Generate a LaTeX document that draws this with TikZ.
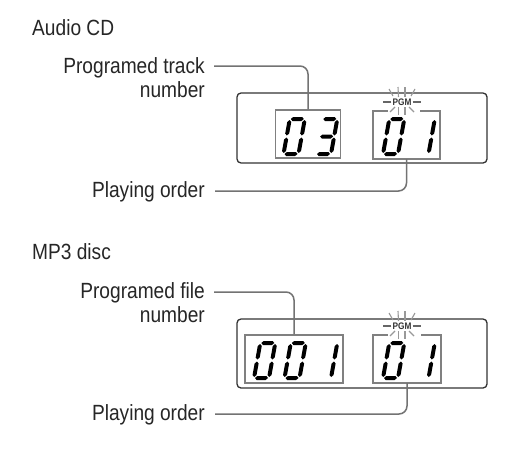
\documentclass[tikz,border=0pt]{standalone}
\usepackage{fontspec}
\setmainfont{Liberation Sans}[FakeStretch=0.87]
\usetikzlibrary{calc}
\newcommand{\lcdh}[3]{\fill (#1,#3) -- (#1+2,#3+2) -- (#2-2,#3+2) -- (#2,#3) -- (#2-2,#3-2) -- (#1+2,#3-2) -- cycle;}
\newcommand{\lcdv}[3]{\fill (#1,#2) -- (#1+2,#2+2) -- (#1+2,#3-2) -- (#1,#3) -- (#1-2,#3-2) -- (#1-2,#2+2) -- cycle;}
\newcommand{\lcdsega}{\lcdh{1}{14}{35}}
\newcommand{\lcdsegd}{\lcdh{1}{14}{0}}
\newcommand{\lcdsegg}{\lcdh{1}{14}{17.5}}
\newcommand{\lcdsegf}{\lcdv{0}{18.5}{34}}
\newcommand{\lcdsege}{\lcdv{0}{1}{16.5}}
\newcommand{\lcdsegb}{\lcdv{15}{18.5}{34}}
\newcommand{\lcdsegc}{\lcdv{15}{1}{16.5}}
\newcommand{\lcddigit}[3]{\begin{scope}[shift={(#1,-#2)}, xslant=0.18, black]
  \foreach \s in {#3} {\csname lcdseg\s\endcsname}
\end{scope}}
\tikzset{
  lbl/.style={font=\fontsize{22}{24}\selectfont, text=black!85, inner sep=0},
  leader/.style={draw=black!55, line width=1.5pt, rounded corners=8pt},
  outerbox/.style={draw=black!80, line width=1.3pt, rounded corners=4pt, inner sep=0},
  dispbox/.style={draw=black!50, line width=1.5pt, inner sep=0},
  dispnode/.style={inner sep=0},
  displine/.style={draw=black!50, line width=1.5pt},
  pgmtext/.style={font=\bfseries\fontsize{9.5}{10}\selectfont, text=black!80, inner sep=0},
  ray/.style={draw=black!40, line width=1.1pt},
  pgmdash/.style={draw=black!60, line width=1.1pt}
}
\newcommand{\pgmrays}[1]{\begin{scope}[shift={(#1)}]
  \draw[ray] (-13,13) -- (-9,6);
  \draw[ray] (-4,15) -- (-3.5,5);
  \draw[ray] (3,15) -- (3,5);
  \draw[ray] (13,13) -- (9,6);
  \draw[ray] (-12,-10) -- (-7,-5);
  \draw[ray] (-3.5,-5) -- (-3.5,-13);
  \draw[ray] (3,-5) -- (3,-13);
  \draw[ray] (12,-10) -- (7,-5);
\end{scope}}
\begin{document}
\begin{tikzpicture}[x=1pt,y=1pt]
\fill[white] (0,0) rectangle (510,-460);
\useasboundingbox (0,0) rectangle (510,-460);

% ---------- Audio CD ----------
\node[lbl, anchor=base west] (t1) at (32,-35) {Audio CD};
\node[lbl, anchor=base east] (p1) at (205,-73) {Programed track};
\node[lbl, anchor=base east] (n1) at (205,-97) {number};
\node[lbl, anchor=base east] (o1) at (205,-197) {Playing order};

\node[outerbox, minimum width=250pt, minimum height=70pt] (ob1) at (362,-128) {};
\node[dispbox, minimum width=65pt, minimum height=48pt] (dl1) at (308,-134) {};
\node[dispnode, minimum width=67pt, minimum height=48pt] (dr1) at (406.5,-135) {};
\draw[displine] ($(dr1.north west)+(15,0)$) -- (dr1.north west) -- (dr1.south west) -- (dr1.south east) -- (dr1.north east) -- ++(-20,0);

\node[pgmtext] (pg1) at (402,-102) {PGM};
\draw[pgmdash] ($(pg1.west)+(-1,0)$) -- ++(-8,0);
\draw[pgmdash] ($(pg1.east)+(1,0)$) -- ++(8,0);
\pgmrays{pg1.center}

\lcddigit{283.5}{154}{a,b,c,d,e,f}
\lcddigit{316}{154}{a,b,c,d,g}
\lcddigit{383}{154}{a,b,c,d,e,f}
\lcddigit{413.5}{154}{b,c}

\coordinate (c1) at (214,-66);
\coordinate (c2) at (215,-191);
\draw[leader] (c1) -| (dl1.north);
\draw[leader] (c2) -| (dr1.south);

% ---------- MP3 disc ----------
\node[lbl, anchor=base west] (t2) at (32,-259) {MP3 disc};
\node[lbl, anchor=base east] (p2) at (205,-298) {Programed file};
\node[lbl, anchor=base east] (n2) at (205,-322) {number};
\node[lbl, anchor=base east] (o2) at (205,-420) {Playing order};

\node[outerbox, minimum width=250pt, minimum height=69pt] (ob2) at (362,-353.5) {};
\node[dispbox, minimum width=98pt, minimum height=48pt] (dl2) at (294,-359) {};
\node[dispnode, minimum width=68pt, minimum height=48pt] (dr2) at (407,-359) {};
\draw[displine] ($(dr2.north west)+(15,0)$) -- (dr2.north west) -- (dr2.south west) -- (dr2.south east) -- (dr2.north east) -- ++(-20,0);

\node[pgmtext] (pg2) at (402,-326) {PGM};
\draw[pgmdash] ($(pg2.west)+(-1,0)$) -- ++(-8,0);
\draw[pgmdash] ($(pg2.east)+(1,0)$) -- ++(8,0);
\pgmrays{pg2.center}

\lcddigit{254}{378}{a,b,c,d,e,f}
\lcddigit{284.5}{378}{a,b,c,d,e,f}
\lcddigit{316}{378}{b,c}
\lcddigit{383}{378}{a,b,c,d,e,f}
\lcddigit{413.5}{378}{b,c}

\coordinate (c3) at (214,-292);
\coordinate (c4) at (215,-414);
\draw[leader] (c3) -| (dl2.north);
\draw[leader] (c4) -| (dr2.south);
\end{tikzpicture}
\end{document}
